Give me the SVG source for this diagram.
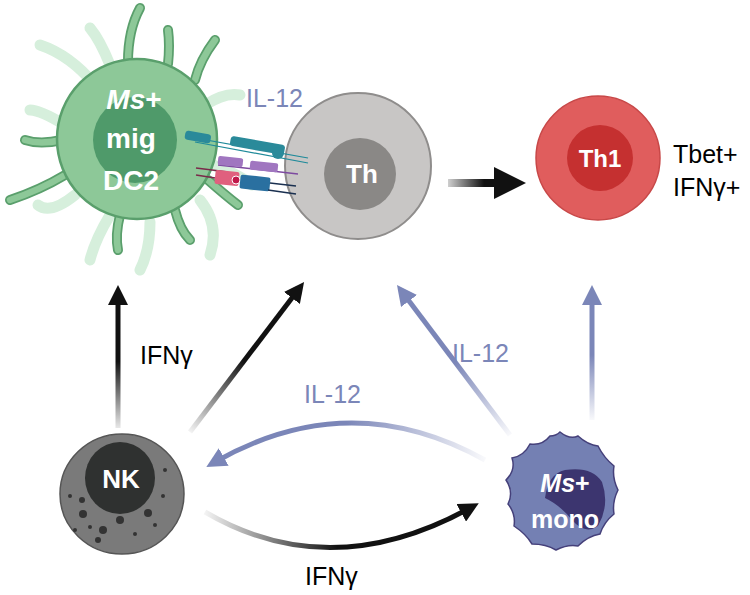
<svg xmlns="http://www.w3.org/2000/svg" width="750" height="595" viewBox="0 0 750 595">
<style>
.w{font-family:"Liberation Sans",Arial,sans-serif;font-weight:bold;fill:#fff;text-anchor:middle}
.b{font-family:"Liberation Sans",Arial,sans-serif;fill:#000;font-size:25px}
.il{font-family:"Liberation Sans",Arial,sans-serif;fill:#7b86b8;font-size:25px}
</style>
<defs>
<marker id="ak" viewBox="0 0 10 10" refX="5" refY="5" markerWidth="4" markerHeight="4" orient="auto"><path d="M0,0L10,5L0,10z" fill="#111"/></marker>
<marker id="ab" viewBox="0 0 10 10" refX="5" refY="5" markerWidth="4" markerHeight="4" orient="auto"><path d="M0,0L10,5L0,10z" fill="#7b86b8"/></marker>
<linearGradient id="gk1" gradientUnits="userSpaceOnUse" x1="118" y1="428" x2="118" y2="295"><stop offset="0" stop-color="#111" stop-opacity="0.1"/><stop offset="0.5" stop-color="#111"/></linearGradient>
<linearGradient id="gk2" gradientUnits="userSpaceOnUse" x1="190" y1="432" x2="300" y2="290"><stop offset="0" stop-color="#111" stop-opacity="0.05"/><stop offset="0.5" stop-color="#111"/></linearGradient>
<linearGradient id="gk3" gradientUnits="userSpaceOnUse" x1="205" y1="510" x2="470" y2="510"><stop offset="0" stop-color="#111" stop-opacity="0.05"/><stop offset="0.5" stop-color="#111"/></linearGradient>
<linearGradient id="gk4" gradientUnits="userSpaceOnUse" x1="448" y1="183" x2="520" y2="183"><stop offset="0" stop-color="#111" stop-opacity="0.2"/><stop offset="0.5" stop-color="#111"/></linearGradient>
<linearGradient id="gb1" gradientUnits="userSpaceOnUse" x1="510" y1="435" x2="400" y2="290"><stop offset="0" stop-color="#7b86b8" stop-opacity="0.05"/><stop offset="0.5" stop-color="#7b86b8"/></linearGradient>
<linearGradient id="gb2" gradientUnits="userSpaceOnUse" x1="592" y1="420" x2="592" y2="290"><stop offset="0" stop-color="#7b86b8" stop-opacity="0.05"/><stop offset="0.5" stop-color="#7b86b8"/></linearGradient>
<linearGradient id="gb3" gradientUnits="userSpaceOnUse" x1="485" y1="460" x2="210" y2="465"><stop offset="0" stop-color="#7b86b8" stop-opacity="0.05"/><stop offset="0.5" stop-color="#7b86b8"/></linearGradient>
</defs>
<g id="connectors" fill="none" stroke-width="5">
<path d="M118,428V295" stroke="url(#gk1)" marker-end="url(#ak)"/>
<path d="M190,432L298,290" stroke="url(#gk2)" marker-end="url(#ak)"/>
<path d="M448,183H510" stroke="url(#gk4)" stroke-width="8" marker-end="url(#ak)"/>
<path d="M510,435L403,293" stroke="url(#gb1)" marker-end="url(#ab)"/>
<path d="M592,420V295" stroke="url(#gb2)" marker-end="url(#ab)"/>
<path d="M485,460Q350,385 215,462" stroke="url(#gb3)" marker-end="url(#ab)"/>
<path d="M205,512Q330,585 470,508" stroke="url(#gk3)" marker-end="url(#ak)"/>
</g>
<g id="dc">
<g fill="none" stroke="#d6efdc" stroke-width="11" stroke-linecap="round">
<path d="M95,85Q70,55 40,45"/><path d="M110,65Q100,40 90,28"/><path d="M65,125Q40,110 30,110"/><path d="M75,195Q50,215 38,205"/><path d="M110,215Q95,240 90,260"/><path d="M150,222Q150,250 140,270"/><path d="M200,200Q220,225 210,255"/><path d="M213,165Q240,175 252,185"/><path d="M205,105Q225,92 240,95"/>
</g>
<g fill="none" stroke="#5a9f6c" stroke-width="10" stroke-linecap="round">
<path d="M128,62Q128,30 140,8"/><path d="M168,64Q170,45 168,30"/><path d="M195,80Q200,60 215,40"/><path d="M62,140Q40,145 25,140"/><path d="M65,175Q40,190 10,200"/><path d="M120,215Q115,235 118,250"/><path d="M175,210Q180,230 190,240"/><path d="M208,180Q225,195 238,205"/>
</g>
<g fill="none" stroke="#8dc898" stroke-width="6.5" stroke-linecap="round">
<path d="M128,62Q128,30 140,8"/><path d="M168,64Q170,45 168,30"/><path d="M195,80Q200,60 215,40"/><path d="M62,140Q40,145 25,140"/><path d="M65,175Q40,190 10,200"/><path d="M120,215Q115,235 118,250"/><path d="M175,210Q180,230 190,240"/><path d="M208,180Q225,195 238,205"/>
</g>
<circle cx="137" cy="139" r="80" fill="#8dc898" stroke="#5a9f6c" stroke-width="2.5"/>
<ellipse cx="135" cy="140" rx="42" ry="43" fill="#4f9a6a"/>
<text class="w" x="134" y="109" font-size="28"><tspan font-style="italic">Ms</tspan>+</text>
<text class="w" x="131" y="148" font-size="28">mig</text>
<text class="w" x="131" y="190" font-size="28">DC2</text>
</g>
<g id="th">
<circle cx="358" cy="166" r="73" fill="#c8c6c5" stroke="#8f8d8c" stroke-width="2"/>
<circle cx="360" cy="174" r="36" fill="#8a8886"/>
<text class="w" x="362" y="183" font-size="26">Th</text>
</g>
<g id="receptors">
<g stroke="#1f8a9a" stroke-width="1.2"><line x1="195" y1="138" x2="308" y2="158"/><line x1="195" y1="142" x2="308" y2="163"/></g>
<rect x="185" y="132" width="26" height="9" rx="3" fill="#2a8a9a" transform="rotate(10 195 136)"/>
<rect x="230" y="140" width="55" height="10" rx="3" fill="#2a8a9a" transform="rotate(10 255 145)"/>
<circle cx="278" cy="153" r="6" fill="#2a8a9a"/>
<line x1="218" y1="165" x2="298" y2="174" stroke="#7d4aa0" stroke-width="1.5"/>
<rect x="218" y="157" width="25" height="9" rx="2" fill="#a076c0" transform="rotate(6 230 161)"/>
<rect x="250" y="162" width="28" height="9" rx="2" fill="#a076c0" transform="rotate(6 264 166)"/>
<line x1="196" y1="168" x2="228" y2="172" stroke="#7a2a4a" stroke-width="1.5"/>
<line x1="196" y1="175" x2="228" y2="180" stroke="#7a2a4a" stroke-width="1.5"/>
<rect x="215" y="171" width="24" height="14" rx="2" fill="#e0607e" transform="rotate(6 227 178)"/>
<circle cx="236" cy="180" r="4" fill="#c0184a" stroke="#fff"/>
<rect x="240" y="176" width="30" height="14" rx="2" fill="#2a70a0" transform="rotate(6 255 183)"/>
<line x1="270" y1="183" x2="296" y2="186" stroke="#1a3050" stroke-width="1.5"/>
<line x1="268" y1="190" x2="296" y2="194" stroke="#1a3050" stroke-width="1.5"/>
</g>
<g id="th1">
<circle cx="598" cy="158" r="62" fill="#e05d5d" stroke="#c84848" stroke-width="1.5"/>
<circle cx="600" cy="158" r="33" fill="#c53030"/>
<text class="w" x="600" y="167" font-size="24">Th1</text>
<text class="b" x="673" y="163">Tbet+</text>
<text class="b" x="673" y="196">IFNγ+</text>
</g>
<g id="nk">
<ellipse cx="122" cy="494" rx="62" ry="60" fill="#7a7a7a" stroke="#555" stroke-width="1.5"/>
<ellipse cx="120" cy="478" rx="35" ry="36" fill="#2f3130"/>
<g fill="#333"><circle cx="82" cy="500" r="3"/><circle cx="83" cy="514" r="4"/><circle cx="103" cy="530" r="4"/><circle cx="120" cy="520" r="4"/><circle cx="148" cy="513" r="4"/><circle cx="98" cy="540" r="3"/><circle cx="135" cy="534" r="2"/><circle cx="163" cy="496" r="2"/><circle cx="155" cy="525" r="2"/><circle cx="90" cy="527" r="2"/><circle cx="75" cy="530" r="2"/><circle cx="165" cy="470" r="2"/><circle cx="70" cy="496" r="2"/></g>
<text class="w" x="121" y="488" font-size="26">NK</text>
</g>
<g id="mono">
<path d="M560,432 Q570,440 578,436 Q588,445 598,446 Q604,458 614,466 Q612,478 618,490 Q612,502 614,514 Q604,522 600,534 Q588,536 578,546 Q568,544 556,550 Q546,544 532,544 Q526,534 514,526 Q516,514 508,504 Q514,492 506,480 Q516,470 512,458 Q524,456 530,444 Q542,446 550,436 Q556,436 560,432Z" fill="#7480b3" stroke="#45407a" stroke-width="1.5"/>
<path d="M545,498 Q548,474 565,470 Q592,466 602,482 Q610,505 598,526 Q585,535 572,520 Q560,505 545,498Z" fill="#3c356f"/>
<text class="w" x="565" y="492" font-size="25"><tspan font-style="italic">Ms</tspan>+</text>
<text class="w" x="565" y="528" font-size="25">mono</text>
</g>
<g id="labels">
<text class="il" x="246" y="107">IL-12</text>
<text class="b" x="140" y="364">IFNγ</text>
<text class="il" x="452" y="362">IL-12</text>
<text class="il" x="304" y="403">IL-12</text>
<text class="b" x="305" y="585">IFNγ</text>
</g>
</svg>
